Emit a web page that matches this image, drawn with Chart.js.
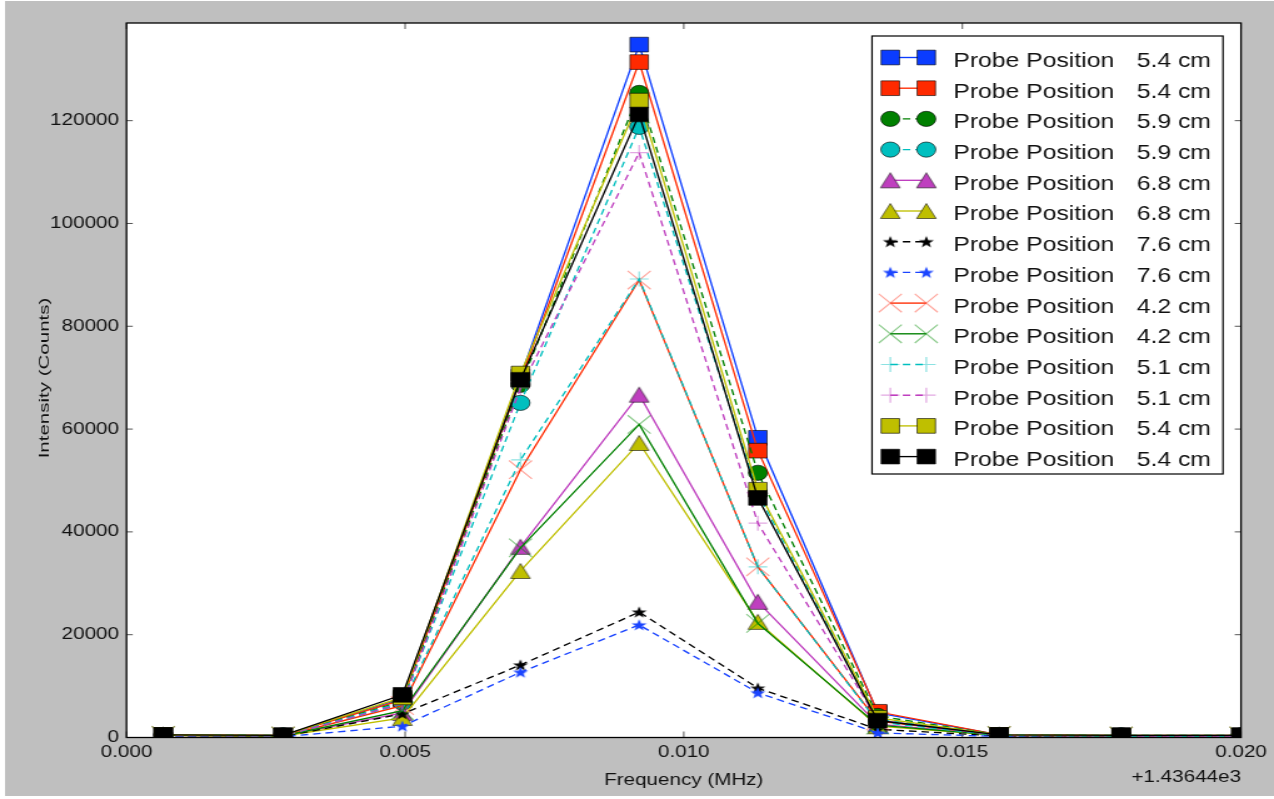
<!DOCTYPE html>
<html>
<head>
<meta charset="utf-8">
<title>Probe Position spectra</title>
<script src="https://cdn.jsdelivr.net/npm/chart.js@4.4.1/dist/chart.umd.min.js"></script>
<style>
  html, body { margin: 0; padding: 0; background: #fff; overflow: hidden; }
  /* the reference is stretched sideways, so draw narrow and widen with CSS */
  #wrap { position: absolute; left: 0; top: 0; width: 1019px; height: 799px;
          transform: scaleX(1.25025); transform-origin: 0 0; }
</style>
</head>
<body>
<div id="wrap"><canvas id="chart" width="1019" height="799"></canvas></div>
<script>
// ---- data ----
const freqs = [0.00066, 0.00281, 0.00495, 0.00707, 0.00920, 0.01133, 0.01348, 0.01566, 0.01785, 0.02000];

const blueSq    = [500, 400, 7600, 70200, 134800, 58300, 4800, 500, 400, 400];
const redSq     = [500, 400, 7300, 69600, 131400, 55800, 5000, 500, 400, 400];
const greenCirc = [500, 400, 7000, 68600, 125400, 51500, 4200, 500, 400, 400];
const cyanCirc  = [500, 400, 6800, 65100, 118800, 47500, 3600, 500, 400, 400];
const magTri    = [400, 300, 4800, 37100, 66700, 26400, 2600, 400, 300, 300];
const yelTri    = [400, 300, 3800, 32400, 57300, 22500, 2200, 400, 300, 300];
const blackStar = [300, 200, 4600, 14100, 24400, 9600, 1600, 300, 200, 200];
const blueStar  = [200, 150, 2200, 12700, 21900, 8700, 900, 200, 150, 150];
const redX      = [400, 300, 6200, 52100, 89000, 33200, 3200, 400, 300, 300];
const greenX    = [400, 300, 5200, 36900, 60900, 22200, 2400, 400, 300, 300];
const cyanPlus  = [400, 300, 6500, 54000, 89200, 33200, 3000, 400, 300, 300];
const magPlus   = [400, 300, 6600, 68000, 113800, 41700, 3400, 400, 300, 300];
const yelSq     = [500, 400, 7800, 70800, 123900, 48200, 3800, 500, 400, 400];
const blackSq   = [500, 400, 8300, 69600, 121200, 46600, 3300, 500, 400, 400];

const probeLabels = ['5.4 cm', '5.4 cm', '5.9 cm', '5.9 cm', '6.8 cm', '6.8 cm', '7.6 cm',
                     '7.6 cm', '4.2 cm', '4.2 cm', '5.1 cm', '5.1 cm', '5.4 cm', '5.4 cm'];

const xTickVals = [0, 0.005, 0.010, 0.015, 0.020];
const yTickVals = [0, 20000, 40000, 60000, 80000, 100000, 120000];
const xOffsetText = '+1.43644e3';

// ---- layout (native canvas px, before the CSS stretch) ----
const S = 1274 / 1019;
const PLOT_L = 126.5 / S, PLOT_R = 1241 / S, PLOT_T = 23, PLOT_B = 737.5;
const FONT = '"Liberation Sans", Arial, Helvetica, sans-serif';

// marker images matplotlib style (triangle centred on its box, filled star)
function triangleMarker(fill) {
  const c = document.createElement('canvas');
  c.width = 18; c.height = 18;
  const g = c.getContext('2d');
  g.beginPath();
  g.moveTo(9, 1.5); g.lineTo(1.2, 16.5); g.lineTo(16.8, 16.5); g.closePath();
  g.fillStyle = fill; g.fill();
  g.lineWidth = 1; g.strokeStyle = 'rgba(0,0,0,0.55)'; g.stroke();
  return c;
}
function starMarker(fill) {
  const c = document.createElement('canvas');
  c.width = 14; c.height = 14;
  const g = c.getContext('2d');
  const R = 6.3, r = 2.6;
  g.beginPath();
  for (let i = 0; i < 10; i++) {
    const a = -Math.PI / 2 + i * Math.PI / 5;
    const rad = i % 2 ? r : R;
    g.lineTo(7 + rad * Math.cos(a), 7.5 + rad * Math.sin(a));
  }
  g.closePath();
  g.fillStyle = fill; g.fill();
  return c;
}

const DASH = [6, 4];
function series(data, color, marker, extra) {
  return Object.assign({
    data: data.map((v, i) => ({ x: freqs[i], y: v })),
    borderColor: color,
    borderWidth: 1.35,
    pointStyle: marker,
    pointRadius: 10.4,
    pointBackgroundColor: color,
    pointBorderColor: 'rgba(0,0,0,0.6)',
    pointBorderWidth: 1,
    borderDash: [],
    tension: 0,
    fill: false,
    clip: 0
  }, extra || {});
}

const BLUE = '#0b3cff', RED = '#ff2a00', GREEN = '#008000', CYAN = '#00bfbf',
      MAG = '#bf3fbf', YEL = '#bfbf00', BLACK = '#000000';

const datasets = [
  series(blueSq, BLUE, 'rect'),
  series(redSq, RED, 'rect'),
  series(greenCirc, GREEN, 'circle', { borderDash: DASH, pointRadius: 7.6 }),
  series(cyanCirc, CYAN, 'circle', { borderDash: DASH, pointRadius: 7.6 }),
  series(magTri, MAG, triangleMarker(MAG)),
  series(yelTri, YEL, triangleMarker(YEL)),
  series(blackStar, BLACK, starMarker(BLACK), { borderDash: DASH }),
  series(blueStar, '#1a44ff', starMarker('#1a44ff'), { borderDash: DASH }),
  series(redX, RED, 'crossRot', { pointRadius: 13, pointBorderColor: 'rgba(255,60,40,0.45)', pointBorderWidth: 1.2 }),
  series(greenX, GREEN, 'crossRot', { pointRadius: 13, pointBorderColor: 'rgba(0,140,0,0.45)', pointBorderWidth: 1.2 }),
  series(cyanPlus, CYAN, 'cross', { borderDash: DASH, pointRadius: 7.5, pointBorderColor: 'rgba(0,191,191,0.45)', pointBorderWidth: 1.2 }),
  series(magPlus, MAG, 'cross', { borderDash: DASH, pointRadius: 7.5, pointBorderColor: 'rgba(191,63,191,0.45)', pointBorderWidth: 1.2 }),
  series(yelSq, YEL, 'rect'),
  series(blackSq, BLACK, 'rect')
];
// later series sit on top, as in the original plot
datasets.forEach((d, i) => { d.order = -i; d.label = 'Probe Position ' + probeLabels[i]; });

// legend marker drawn the same way Chart.js draws points
function drawMarker(ctx, ds, x, y) {
  const st = ds.pointStyle;
  if (st instanceof HTMLCanvasElement) {
    ctx.drawImage(st, x - st.width / 2, y - st.height / 2);
    return;
  }
  const r = ds.pointRadius;
  ctx.fillStyle = ds.pointBackgroundColor;
  ctx.strokeStyle = ds.pointBorderColor;
  ctx.lineWidth = ds.pointBorderWidth;
  ctx.setLineDash([]);
  ctx.beginPath();
  if (st === 'rect') {
    const h = r * Math.SQRT1_2;
    ctx.rect(x - h, y - h, 2 * h, 2 * h);
    ctx.fill(); ctx.stroke();
  } else if (st === 'circle') {
    ctx.arc(x, y, r, 0, Math.PI * 2);
    ctx.fill(); ctx.stroke();
  } else if (st === 'crossRot') {
    const h = r * Math.SQRT1_2;
    ctx.moveTo(x - h, y - h); ctx.lineTo(x + h, y + h);
    ctx.moveTo(x - h, y + h); ctx.lineTo(x + h, y - h);
    ctx.stroke();
  } else if (st === 'cross') {
    ctx.moveTo(x - r, y); ctx.lineTo(x + r, y);
    ctx.moveTo(x, y - r); ctx.lineTo(x, y + r);
    ctx.stroke();
  }
}

const decor = {
  id: 'decor',
  beforeDraw(chart) {
    const ctx = chart.ctx, a = chart.chartArea;
    ctx.save();
    ctx.fillStyle = '#ffffff';
    ctx.fillRect(0, 0, chart.width, chart.height);
    ctx.fillStyle = '#bfbfbf';
    ctx.fillRect(4, 1, chart.width - 4, chart.height - 4);
    ctx.fillStyle = '#ffffff';
    ctx.fillRect(a.left, a.top, a.right - a.left, a.bottom - a.top);
    ctx.restore();
  },
  afterDatasetsDraw(chart) {
    const ctx = chart.ctx, a = chart.chartArea;
    const xs = chart.scales.x, ys = chart.scales.y;
    ctx.save();
    // inward ticks on all four sides
    ctx.strokeStyle = '#555';
    ctx.lineWidth = 1;
    ctx.beginPath();
    xTickVals.forEach(v => {
      const px = xs.getPixelForValue(v);
      ctx.moveTo(px, a.bottom); ctx.lineTo(px, a.bottom - 6);
      ctx.moveTo(px, a.top); ctx.lineTo(px, a.top + 6);
    });
    yTickVals.forEach(v => {
      const py = ys.getPixelForValue(v);
      ctx.moveTo(a.left, py); ctx.lineTo(a.left + 5, py);
      ctx.moveTo(a.right, py); ctx.lineTo(a.right - 5, py);
    });
    ctx.stroke();
    // axes frame
    ctx.strokeStyle = '#000';
    ctx.lineWidth = 1.3;
    ctx.strokeRect(a.left, a.top, a.right - a.left, a.bottom - a.top);
    ctx.restore();
  },
  afterDraw(chart) {
    const ctx = chart.ctx, a = chart.chartArea;
    ctx.save();
    ctx.fillStyle = '#111';

    // x axis title and offset text
    ctx.font = '16.5px ' + FONT;
    ctx.textAlign = 'center';
    ctx.textBaseline = 'alphabetic';
    ctx.fillText('Frequency (MHz)', (a.left + a.right) / 2, 785);
    ctx.textAlign = 'right';
    ctx.fillText(xOffsetText, a.right, 781.5);

    // y axis title, narrow glyphs like the reference
    ctx.save();
    ctx.translate(35.5, 378);
    ctx.rotate(-Math.PI / 2);
    ctx.scale(1, 0.55);
    ctx.font = '20.5px ' + FONT;
    ctx.textAlign = 'center';
    ctx.textBaseline = 'middle';
    ctx.fillText('Intensity (Counts)', 0, 0);
    ctx.restore();

    // legend box
    const bx = 872 / S, bw = 1223 / S - bx, by = 36, bh = 474 - 36;
    ctx.fillStyle = '#fff';
    ctx.fillRect(bx, by, bw, bh);
    ctx.strokeStyle = '#000';
    ctx.lineWidth = 1.2;
    ctx.strokeRect(bx, by, bw, bh);

    const m1 = 890.3 / S, m2 = 926.3 / S, t1 = 953.3 / S, t2 = 1136.7 / S;
    chart.data.datasets.forEach((ds, i) => {
      const y = 57.5 + i * 30.7;
      ctx.save();
      ctx.strokeStyle = ds.borderColor;
      ctx.lineWidth = ds.borderWidth;
      ctx.setLineDash(ds.borderDash || []);
      ctx.beginPath();
      ctx.moveTo(m1, y); ctx.lineTo(m2, y);
      ctx.stroke();
      ctx.restore();
      drawMarker(ctx, ds, m1, y);
      drawMarker(ctx, ds, m2, y);
      ctx.fillStyle = '#111';
      ctx.font = '19.8px ' + FONT;
      ctx.textAlign = 'left';
      ctx.textBaseline = 'alphabetic';
      ctx.fillText('Probe Position', t1, y + 9.4);
      ctx.fillText(probeLabels[i], t2, y + 9.4);
    });
    ctx.restore();
  }
};

new Chart(document.getElementById('chart'), {
  type: 'line',
  data: { datasets: datasets },
  options: {
    responsive: false,
    devicePixelRatio: 1,
    animation: false,
    events: [],
    layout: { padding: { left: 0, top: PLOT_T, right: 1019 - PLOT_R, bottom: 0 } },
    plugins: { legend: { display: false }, tooltip: { enabled: false } },
    scales: {
      x: {
        type: 'linear',
        min: 0,
        max: 0.02,
        afterBuildTicks: s => { s.ticks = xTickVals.map(v => ({ value: v })); },
        afterFit: s => { s.height = 799 - PLOT_B; },
        grid: { display: false, drawTicks: false },
        border: { display: false },
        ticks: {
          callback: v => Number(v).toFixed(3),
          font: { family: FONT, size: 16.5 },
          color: '#111',
          padding: 5,
          maxRotation: 0,
          autoSkip: false
        }
      },
      y: {
        min: 0,
        max: 139000,
        afterBuildTicks: s => { s.ticks = yTickVals.map(v => ({ value: v })); },
        afterFit: s => { s.width = PLOT_L; },
        grid: { display: false, drawTicks: false },
        border: { display: false },
        ticks: {
          callback: v => String(v),
          font: { family: FONT, size: 16.5 },
          color: '#111',
          padding: 6,
          autoSkip: false
        }
      }
    }
  },
  plugins: [decor]
});
</script>
</body>
</html>
